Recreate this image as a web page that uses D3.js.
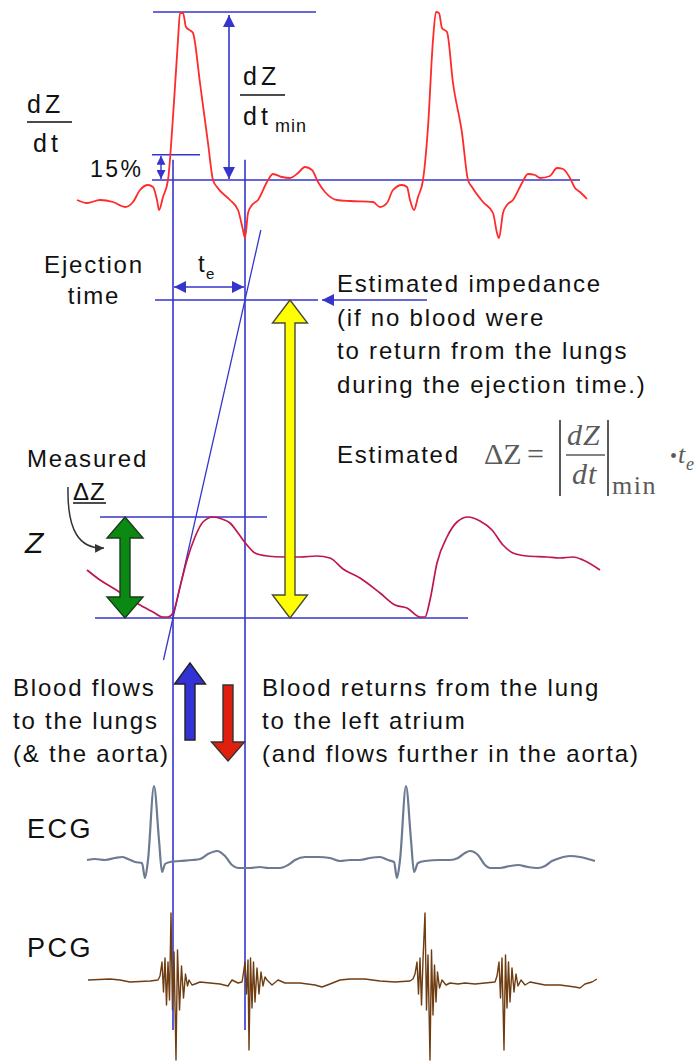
<!DOCTYPE html>
<html>
<head>
<meta charset="utf-8">
<script src="https://cdn.jsdelivr.net/npm/d3@7"></script>
<style>
  html, body { margin: 0; padding: 0; background: #fff; }
  svg { display: block; }
  text { font-family: "Liberation Sans", Arial, sans-serif; fill: #111; }
</style>
</head>
<body>
<svg id="chart" width="695" height="1061"></svg>
<script>
// ---- Signals: [time (ms), amplitude (a.u.)] ----
const dzdtSeries = [
  [0,-20],[20,-23],[46,-20],[72,-22],[96,-27],[112,-22],[126,-10],[142,-5],[152,-7],[160,-20],
  [164,-30],[172,-17],[182,0],[192,63],[202,140],[206,167],[212,167],[218,153],[228,149],[232,147],
  [246,97],[262,37],[272,0],[280,-7],[306,-20],[322,-30],[332,-50],[336,-58],[342,-33],[350,-25],
  [362,-20],[380,-2],[392,6],[410,3],[426,2],[442,7],[456,13],[470,10],[482,-2],[496,-12],
  [520,-20],[546,-21],[592,-22],[606,-27],[620,-23],[632,-10],[650,-5],[660,-7],[666,-20],[674,-30],
  [682,-17],[692,0],[702,53],[712,140],[718,168],[724,167],[730,152],[740,148],[752,97],[770,47],
  [782,0],[790,-7],[812,-22],[832,-33],[840,-53],[844,-58],[852,-33],[860,-25],[872,-20],[890,-3],
  [902,6],[916,5],[926,2],[946,4],[960,12],[972,11],[986,2],[996,-8],[1006,-12],[1020,-19]
];

const zSeries = [
  [20,48],[46,38],[72,30],[100,21],[126,13],[152,6],[172,1],[182,1],[192,5],[206,31],
  [220,58],[236,81],[252,96],[272,101],[290,99],[306,95],[322,85],[340,73],[356,65],[380,62],
  [412,61],[446,61],[480,62],[506,60],[532,49],[566,40],[606,25],[636,13],[660,10],[686,1],
  [696,1],[706,18],[720,55],[740,81],[760,96],[782,101],[806,97],[830,88],[852,73],[872,65],
  [900,62],[940,61],[966,60],[992,61],[1012,58],[1046,48]
];

const ecgSeries = [
  [20,0],[36,1],[56,0],[76,2],[90,3],[102,1],[116,-2],[130,-3],[136,-18],[142,0],
  [154,74],[164,20],[170,-12],[176,-4],[186,-2],[206,-1],[230,0],[246,1],[262,6],[280,9],
  [296,4],[310,-5],[322,-8],[346,-8],[366,-7],[382,-8],[406,-8],[422,-5],[436,0],[456,3],
  [482,3],[506,2],[526,-1],[546,0],[566,0],[586,2],[606,3],[622,0],[634,-2],[640,-18],
  [646,0],[658,74],[668,20],[674,-12],[682,-3],[696,-1],[726,0],[746,0],[762,2],[776,7],
  [786,9],[802,5],[816,-5],[826,-8],[846,-8],[866,-6],[882,-5],[902,-7],[922,-8],[936,-6],
  [950,-1],[966,2],[986,4],[1006,3],[1022,1],[1036,-1]
];

const pcgSeries = [
  [22,0],[66,1],[86,0],[106,-2],[146,-1],[162,0],
  // first heart sound
  [166,4],[170,18],[173,-12],[176,22],[179,-25],[182,18],[185,-20],[188,67],[191,-30],[194,28],
  [198,-80],[201,30],[205,-30],[209,14],[213,-18],[217,6],[221,-6],[224,0],
  [230,-5],[236,-4],[246,-2],[266,-3],[286,-4],[302,-6],[310,0],[322,-3],[330,-2],
  // second heart sound
  [332,4],[336,18],[339,-14],[342,20],[344,-70],[347,22],[350,-28],[353,18],[356,-22],[360,12],
  [364,-14],[368,8],[372,-6],[376,3],[380,0],
  [390,-5],[402,0],[416,-3],[446,-3],[476,-5],[490,-7],[506,-4],[526,0],[546,1],[576,1],
  [606,-1],[636,-2],[666,-1],[672,1],
  // first heart sound, next beat
  [676,6],[680,18],[683,-14],[686,22],[689,-25],[692,20],[696,67],[699,-30],[702,25],[706,-80],
  [709,30],[712,-35],[715,15],[718,-22],[721,8],[725,-8],[730,0],
  [738,-5],[746,-3],[762,-4],[776,-3],[796,-4],[816,-3],[836,-2],
  // second heart sound, next beat
  [840,4],[844,18],[847,-18],[850,22],[854,-70],[857,25],[860,-28],[863,18],[866,-22],[870,12],
  [874,-12],[878,6],[882,-6],[888,0],
  [896,-5],[906,-2],[916,-3],[936,-5],[966,-5],[996,-7],[1006,-8],[1016,-4],[1030,-2],[1040,1]
];

// ---- Timing events and derived amplitudes ----
const ejectionStart = 192;     // ms, dZ/dt at 15 % of its peak
const ejectionEnd = 336;       // ms, dZ/dt minimum
const estimatedDeltaZ = 318;   // a.u., |dZ/dt|min · te extrapolated on Z
const dzdtArrowTime = 304;     // ms, where the dZ/dt amplitude bracket is drawn

// ---- Text blocks ----
const estimatedLines = ["Estimated impedance", "(if no blood were", "to return from the lungs", "during the ejection time.)"];
const flowLeftLines = ["Blood flows", "to the lungs", "(& the aorta)"];
const flowRightLines = ["Blood returns from the lung", "to the left atrium", "(and flows further in the aorta)"];

const BLUE = "#3535cc";
const svg = d3.select("#chart");

// ---- Scales ----
const x = d3.scaleLinear().domain([0, 1040]).range([77, 597]);
const yDz = d3.scaleLinear().domain([0, 100]).range([180, 80]);
const yZ = d3.scaleLinear().domain([0, 100]).range([618, 518]);
const yEcg = d3.scaleLinear().domain([0, 100]).range([860, 760]);
const yPcg = d3.scaleLinear().domain([0, 100]).range([980, 880]);

const peak = d3.max(dzdtSeries, d => d[1]);
const level15 = 0.15 * peak;
const zMax = d3.max(zSeries, d => d[1]);
const slope = estimatedDeltaZ / (ejectionEnd - ejectionStart);

// ---- Arrowhead markers ----
const defs = svg.append("defs");
function marker(id, color, w, l) {
  defs.append("marker")
    .attr("id", id).attr("viewBox", "0 0 10 10").attr("refX", 10).attr("refY", 5)
    .attr("markerWidth", l).attr("markerHeight", w)
    .attr("markerUnits", "userSpaceOnUse").attr("orient", "auto-start-reverse")
    .append("path").attr("d", "M0,0L10,5L0,10Z").attr("fill", color);
}
marker("ahBig", BLUE, 12, 13);
marker("ahSmall", BLUE, 9, 9);
marker("ahDark", "#333", 11, 9);

function hline(x1, x2, y, w = 1.6) {
  svg.append("line").attr("x1", x1).attr("x2", x2).attr("y1", y).attr("y2", y)
    .attr("stroke", BLUE).attr("stroke-width", w);
}
function seg(x1, y1, x2, y2, opts = {}) {
  const l = svg.append("line").attr("x1", x1).attr("y1", y1).attr("x2", x2).attr("y2", y2)
    .attr("stroke", opts.color || BLUE).attr("stroke-width", opts.w || 1.6);
  if (opts.start) l.attr("marker-start", `url(#${opts.start})`);
  if (opts.end) l.attr("marker-end", `url(#${opts.end})`);
  return l;
}
function txt(x0, y0, s, o = {}) {
  const t = svg.append("text").attr("x", x0).attr("y", y0).text(s)
    .style("font-size", (o.size || 24) + "px")
    .style("letter-spacing", (o.ls !== undefined ? o.ls : 1.8) + "px");
  if (o.anchor) t.attr("text-anchor", o.anchor);
  if (o.family) t.style("font-family", o.family);
  if (o.italic) t.style("font-style", "italic");
  if (o.fill) t.style("fill", o.fill);
  return t;
}

// ---- Reference lines ----
const xs = x(ejectionStart), xe = x(ejectionEnd);
hline(153, 316, yDz(peak));             // dZ/dt peak
hline(152, 200, yDz(level15));          // 15 % level
hline(152, 580, yDz(0));                // dZ/dt zero line
hline(155, 318, yZ(estimatedDeltaZ));   // estimated impedance level
hline(100, 267, yZ(zMax));              // measured Z peak
hline(95, 468, yZ(0));                  // Z foot

// Ejection start/end verticals
[xs, xe].forEach(xx => seg(xx, yDz(level15) + 5, xx, 1030));

// Tangent to the Z upstroke
const vLow = -42, vHigh = 388;
seg(x(ejectionStart + vLow / slope), yZ(vLow), x(ejectionStart + vHigh / slope), yZ(vHigh), { w: 1.3 });

// ---- Traces ----
const mk = (ys, curve) => d3.line().x(d => x(d[0])).y(d => ys(d[1])).curve(curve);
svg.append("path").attr("d", mk(yDz, d3.curveMonotoneX)(dzdtSeries))
  .attr("fill", "none").attr("stroke", "#ff2a2a").attr("stroke-width", 1.8).attr("stroke-linejoin", "round");
svg.append("path").attr("d", mk(yZ, d3.curveMonotoneX)(zSeries))
  .attr("fill", "none").attr("stroke", "#c0164e").attr("stroke-width", 1.7);
svg.append("path").attr("d", mk(yEcg, d3.curveMonotoneX)(ecgSeries))
  .attr("fill", "none").attr("stroke", "#6c7a92").attr("stroke-width", 2.2).attr("stroke-linejoin", "round");
svg.append("path").attr("d", mk(yPcg, d3.curveLinear)(pcgSeries))
  .attr("fill", "none").attr("stroke", "#6e3d12").attr("stroke-width", 1.4).attr("stroke-linejoin", "round");

// ---- Measurement arrows ----
const ax = x(dzdtArrowTime);
seg(ax, yDz(peak) + 3, ax, yDz(0) - 1, { start: "ahBig", end: "ahBig" });
seg(161, yDz(level15) + 1, 161, yDz(0) - 1, { start: "ahSmall", end: "ahSmall", w: 1.4 });
const teY = yZ(estimatedDeltaZ) - 13;
seg(xs + 1, teY, xe - 1, teY, { start: "ahBig", end: "ahBig", w: 1.4 });
seg(427, yZ(estimatedDeltaZ), 322, yZ(estimatedDeltaZ), { end: "ahBig", w: 1.4 });

// Block arrows
function doubleArrow(cx, yTop, yBot, hw, hl, sw, fill, stroke) {
  const p = [[cx, yTop], [cx + hw / 2, yTop + hl], [cx + sw / 2, yTop + hl], [cx + sw / 2, yBot - hl],
    [cx + hw / 2, yBot - hl], [cx, yBot], [cx - hw / 2, yBot - hl], [cx - sw / 2, yBot - hl],
    [cx - sw / 2, yTop + hl], [cx - hw / 2, yTop + hl]];
  svg.append("path").attr("d", "M" + p.join("L") + "Z")
    .attr("fill", fill).attr("stroke", stroke).attr("stroke-width", 1.4).attr("stroke-linejoin", "miter");
}
function singleArrow(cx, yTip, yTail, hw, hl, sw, fill, stroke) {
  const p = [[cx, yTip], [cx + hw / 2, yTip + hl], [cx + sw / 2, yTip + hl], [cx + sw / 2, yTail],
    [cx - sw / 2, yTail], [cx - sw / 2, yTip + hl], [cx - hw / 2, yTip + hl]];
  svg.append("path").attr("d", "M" + p.join("L") + "Z")
    .attr("fill", fill).attr("stroke", stroke).attr("stroke-width", 1.4);
}
doubleArrow(125, yZ(zMax), yZ(0), 36, 21, 10, "#0a8a12", "#1d3a1d");
doubleArrow(290, yZ(estimatedDeltaZ), yZ(0), 35, 23, 10, "#ffff00", "#4a4a3a");
singleArrow(190, 663, 740, 31, 21, 10, "#3232d6", "#222");
singleArrow(228, 761, 685, 33, -19, 10, "#e0200f", "#333");

// Curved pointer for the measured ΔZ
svg.append("path").attr("d", "M68,487 C67,532 80,549 104,548")
  .attr("fill", "none").attr("stroke", "#333").attr("stroke-width", 1.5).attr("marker-end", "url(#ahDark)");

// ---- Labels ----
// dZ/dt fraction on the left
txt(27, 113, "dZ", { size: 25, ls: 4 });
svg.append("line").attr("x1", 27).attr("x2", 72).attr("y1", 122).attr("y2", 122).attr("stroke", "#111").attr("stroke-width", 1.6);
txt(33, 152, "dt", { size: 25, ls: 4 });

// dZ/dt min
txt(243, 85, "dZ", { size: 25, ls: 4 });
svg.append("line").attr("x1", 240).attr("x2", 285).attr("y1", 95).attr("y2", 95).attr("stroke", "#111").attr("stroke-width", 1.6);
txt(243, 125, "dt", { size: 25, ls: 4 });
txt(275, 132, "min", { size: 18, ls: 1 });

txt(90, 177, "15%", { size: 23, ls: 2.5 });

txt(94, 273, "Ejection", { anchor: "middle" });
txt(94, 304, "time", { anchor: "middle" });
txt(198, 272, "t", { size: 24, ls: 0 });
txt(206, 279, "e", { size: 15, ls: 0 });

estimatedLines.forEach((s, i) => txt(337, 292 + i * 33.6, s));

// Estimated ΔZ formula
const FG = "#5a5a5a", SERIF = "\"Liberation Serif\", \"Times New Roman\", serif";
txt(337, 463, "Estimated");
txt(484, 464, "\u0394Z", { size: 30, ls: 0, family: SERIF, fill: FG });
txt(527, 464, "=", { size: 30, ls: 0, family: SERIF, fill: FG });
[560, 608].forEach(bx => svg.append("line").attr("x1", bx).attr("x2", bx).attr("y1", 420).attr("y2", 496)
  .attr("stroke", FG).attr("stroke-width", 2));
txt(567, 445, "dZ", { size: 30, ls: 1, family: SERIF, italic: true, fill: FG });
svg.append("line").attr("x1", 566).attr("x2", 605).attr("y1", 455).attr("y2", 455).attr("stroke", FG).attr("stroke-width", 1.6);
txt(572, 484, "dt", { size: 30, ls: 1, family: SERIF, italic: true, fill: FG });
txt(612, 494, "min", { size: 26, ls: 1.5, family: SERIF, fill: FG });
txt(670, 463, "\u2022", { size: 20, ls: 0, family: SERIF, fill: FG });
txt(678, 463, "t", { size: 26, ls: 0, family: SERIF, italic: true, fill: FG });
txt(686, 470, "e", { size: 18, ls: 0, family: SERIF, italic: true, fill: FG });

// Measured ΔZ
txt(27, 467, "Measured");
txt(73, 500, "\u0394Z", { size: 24, ls: 1 });
svg.append("line").attr("x1", 73).attr("x2", 106).attr("y1", 503).attr("y2", 503).attr("stroke", "#111").attr("stroke-width", 1.3);
txt(25, 553, "Z", { size: 30, ls: 0, italic: true });

flowLeftLines.forEach((s, i) => txt(13, 696 + i * 33, s));
flowRightLines.forEach((s, i) => txt(262, 696 + i * 33, s));

txt(27, 838, "ECG", { size: 27, ls: 2.5 });
txt(27, 957, "PCG", { size: 27, ls: 2.5 });
</script>
</body>
</html>
